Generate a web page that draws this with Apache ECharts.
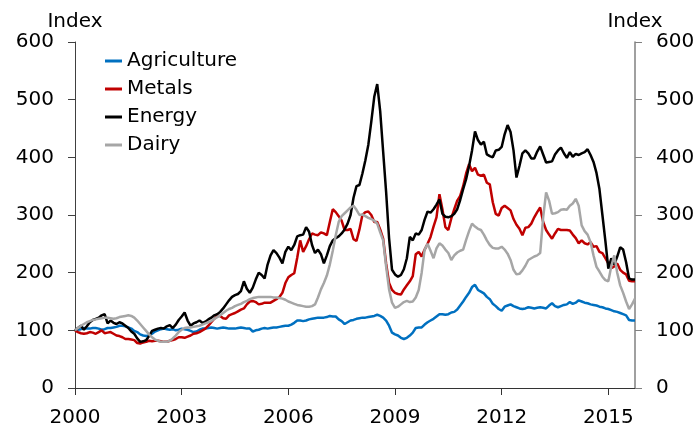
<!DOCTYPE html>
<html>
<head>
<meta charset="utf-8">
<script src="https://cdn.jsdelivr.net/npm/echarts@6/dist/echarts.min.js"></script>
<style>
  html, body { margin: 0; padding: 0; background: #fff; }
  #chart { width: 698px; height: 428px; }
</style>
</head>
<body>
<div id="chart"></div>
<script>
// monthly index, Jan 2000 = 100, Jan 2000 .. Oct 2015
const agriculture = [
  100, 101, 102, 104, 103, 103, 104, 104, 103, 101, 102, 104,
  104, 105, 106, 108, 108, 107, 105, 103, 99, 97, 93, 91,
  90, 91, 94, 98, 100, 102, 103, 102, 101, 102, 100, 101,
  103, 102, 101, 99, 97, 98, 101, 103, 103, 104, 105, 104,
  103, 104, 105, 104, 103, 103, 103, 104, 105, 104, 103, 103,
  98, 100, 101, 103, 104, 103, 104, 105, 105, 106, 107, 108,
  108, 110, 113, 117, 117, 116, 117, 119, 120, 121, 122, 122,
  122, 123, 125, 124, 124, 119, 116, 111, 114, 117, 118, 120,
  121, 122, 122, 123, 124, 125, 127, 125, 122, 117, 108, 96,
  93, 91, 87, 85, 87, 91, 96, 104, 105, 105, 110, 114,
  117, 120, 124, 128, 128, 127, 128, 131, 132, 136, 143, 150,
  158, 165, 175, 179, 170, 167, 164, 158, 154, 146, 142, 137,
  134, 141, 143, 145, 142, 140, 138, 137, 138, 140, 139, 138,
  139, 140, 139, 138, 143, 147, 142, 140, 142, 144, 145, 149,
  146, 148, 152, 150, 148, 147, 145, 144, 143, 141, 140, 138,
  137, 135, 133, 132, 130, 128, 126, 118, 117, 117
];
const metals = [
  100, 97, 95, 94, 95, 97, 96, 94, 97, 100, 95, 96,
  97, 94, 91, 90, 88, 85, 85, 84, 83, 78, 77, 79,
  80, 82, 81, 82, 82, 81, 80, 80, 82, 83, 85, 88,
  88, 87, 89, 91, 94, 95, 97, 100, 103, 108, 114, 120,
  125, 125, 121, 120, 126, 128, 130, 133, 136, 138, 145, 150,
  151, 149, 145, 146, 148, 148, 148, 151, 154, 158, 165, 182,
  192, 196, 199, 226, 256, 236, 246, 258, 268, 266, 265, 270,
  268, 265, 288, 310, 305, 298, 290, 274, 274, 276, 258, 255,
  275, 300, 305, 306, 300, 288, 288, 275, 259, 216, 182, 170,
  165, 163, 162, 171, 178, 185, 194, 232, 236, 228, 240, 250,
  262, 280, 296, 336, 310, 279, 274, 294, 310, 325, 333, 350,
  372, 388, 376, 382, 370, 368, 370, 356, 353, 322, 302, 299,
  312, 316, 312, 308, 293, 283, 276, 265, 278, 279, 285, 296,
  305, 313, 288, 274, 266, 259, 268, 276, 274, 274, 274, 273,
  266, 260, 251, 256, 251, 249, 253, 245, 246, 236, 234, 225,
  216, 208, 211, 216, 205, 200, 197, 186, 185, 185
];
const energy = [
  100, 104, 108, 101, 107, 114, 118, 120, 122, 126, 128, 112,
  117, 113, 111, 114, 112, 108, 104, 98, 94, 86, 80, 81,
  83, 90, 99, 101, 103, 104, 103, 107, 109, 104, 110, 118,
  124, 131, 117, 108, 112, 114, 117, 113, 115, 119, 122, 126,
  128, 132, 138, 145, 152, 158, 161, 163, 168, 185, 172, 165,
  174, 188, 200, 196, 190, 214, 230, 239, 234, 226, 216, 236,
  245, 239, 248, 263, 265, 266, 279, 271, 248, 234, 240, 232,
  216, 230, 246, 256, 260, 263, 268, 275, 285, 300, 330, 350,
  352, 372, 395, 422, 462, 505, 527, 480, 410, 340, 260, 205,
  197, 193, 196, 206, 225, 262, 256, 268, 266, 274, 292, 306,
  304, 310, 318, 327, 302, 297, 296, 298, 302, 310, 326, 345,
  362, 385, 412, 445, 430, 422, 427, 405, 402, 400, 412, 413,
  418, 440, 456, 444, 412, 365, 385, 407, 412, 407, 398, 398,
  410, 419, 405, 391, 392, 393, 405, 412, 417, 407, 399, 409,
  401, 406, 404, 407, 409, 414, 404, 392, 373, 345, 300, 255,
  207, 225, 214, 228, 244, 240, 218, 190, 188, 188
];
const dairy = [
  100, 104, 108, 111, 114, 116, 118, 119, 120, 121, 122, 122,
  121, 120, 121, 123, 124, 125, 126, 125, 122, 117, 111, 105,
  99, 93, 88, 84, 82, 80, 80, 80, 82, 86, 91, 97,
  101, 104, 105, 105, 106, 107, 108, 110, 112, 114, 116, 120,
  123, 126, 130, 134, 137, 139, 142, 144, 146, 149, 151, 154,
  156, 157, 158, 158, 158, 158, 158, 157, 157, 156, 155, 153,
  150, 148, 146, 144, 143, 142, 141, 141, 142, 145, 157, 171,
  182, 195, 214, 238, 265, 288, 298, 303, 308, 313, 316, 309,
  300, 301, 298, 295, 293, 290, 285, 270, 256, 211, 171, 148,
  139, 141, 145, 149, 151, 149, 150, 157, 170, 200, 240, 250,
  238, 225, 242, 251, 247, 240, 234, 222, 230, 235, 238, 240,
  257, 272, 285, 280, 276, 274, 266, 256, 248, 243, 242, 242,
  245, 240, 233, 222, 205, 197, 198, 204, 212, 222, 225, 228,
  230, 234, 296, 339, 325, 302, 303, 305, 309, 310, 309, 316,
  320, 328, 316, 282, 272, 266, 253, 230, 210, 202, 193, 187,
  185, 211, 230, 200, 178, 165, 150, 137, 145, 155
];

// month categories
const months = [];
for (let y = 2000; y <= 2015; y++) {
  for (let m = 1; m <= 12; m++) {
    if (months.length < agriculture.length) {
      months.push(y + "-" + (m < 10 ? "0" + m : m));
    }
  }
}
const yearStep = 36; // tick every 3 years

const font = "DejaVu Sans, sans-serif";
const showTick = (index) => index % yearStep === 0;

const yAxisBase = {
  type: "value",
  min: 0,
  max: 600,
  interval: 100,
  name: "Index",
  nameLocation: "end",
  nameGap: 7,
  nameTextStyle: { color: "#000", fontSize: 20, fontFamily: font },
  axisTick: { show: true, inside: false, length: 7 },
  axisLabel: { color: "#000", fontSize: 20, fontFamily: font, margin: 21 },
  splitLine: { show: false },
};

const chart = echarts.init(document.getElementById("chart"));
chart.setOption({
  animation: false,
  grid: { left: 75, right: 63, top: 42, bottom: 35, containLabel: false },
  legend: {
    orient: "vertical",
    left: 105,
    top: 51,
    padding: 0,
    icon: "rect",
    itemWidth: 17,
    itemHeight: 3,
    itemGap: 8,
    textStyle: { color: "#000", fontSize: 20, fontFamily: font, lineHeight: 20 },
    data: ["Agriculture", "Metals", "Energy", "Dairy"],
  },
  xAxis: {
    type: "category",
    boundaryGap: false,
    data: months,
    axisLine: { lineStyle: { color: "#333", width: 1 } },
    axisTick: { interval: showTick, length: 7, lineStyle: { color: "#333" } },
    axisLabel: {
      interval: showTick,
      color: "#000",
      fontSize: 20,
      fontFamily: font,
      margin: 20,
      formatter: (v) => v.slice(0, 4),
    },
  },
  yAxis: [
    Object.assign({}, yAxisBase, {
      position: "left",
      axisLine: { show: true, lineStyle: { color: "#404040", width: 1 } },
    }),
    Object.assign({}, yAxisBase, {
      position: "right",
      axisLine: { show: true, lineStyle: { color: "#808080", width: 1.5 } },
    }),
  ],
  series: [
    { name: "Agriculture", type: "line", data: agriculture, color: "#0070C0" },
    { name: "Metals", type: "line", data: metals, color: "#C00000" },
    { name: "Energy", type: "line", data: energy, color: "#000000" },
    { name: "Dairy", type: "line", data: dairy, color: "#A6A6A6" },
  ].map((s) => Object.assign(s, {
    yAxisIndex: 0,
    showSymbol: false,
    symbol: "none",
    lineStyle: { width: 2.5 },
  })),
});
</script>
</body>
</html>
